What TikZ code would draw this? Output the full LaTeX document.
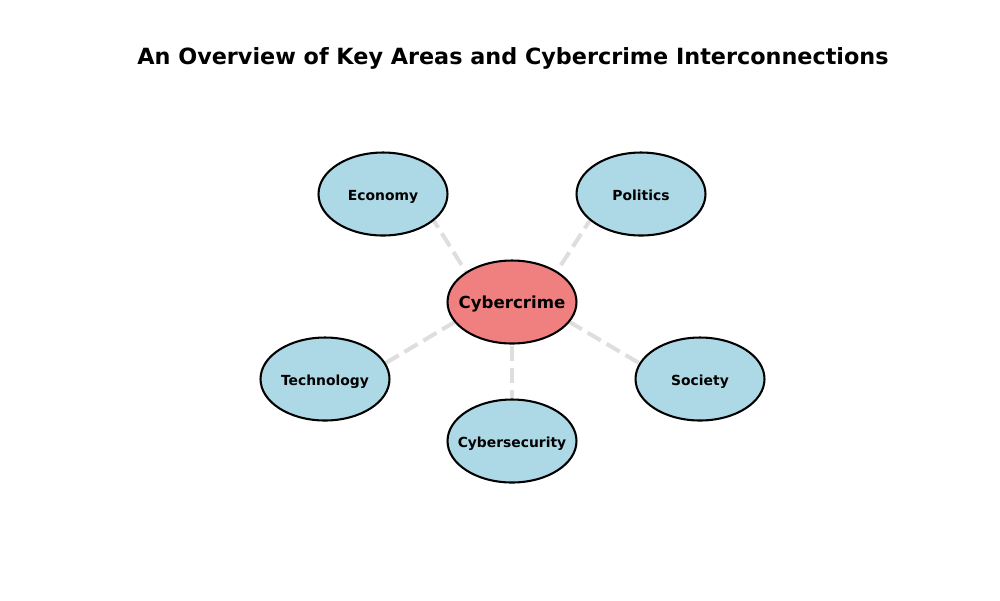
\documentclass[tikz,border=0pt]{standalone}
\usepackage{fontspec}
\setmainfont{DejaVu Sans}
\usetikzlibrary{shapes.geometric,calc,backgrounds}
\definecolor{areablue}{HTML}{ADD8E6}
\definecolor{corecoral}{HTML}{F08080}
\definecolor{linkgray}{HTML}{DEDEDE}
\newcommand{\lbl}[1]{\makebox[0pt][c]{#1}}
\begin{document}
\begin{tikzpicture}[x=0.02cm,y=-0.02cm,
  area/.style={ellipse,draw=black,line width=1.18pt,fill=areablue,minimum width=2.58cm,minimum height=1.66cm,inner sep=0pt,text height=0.74em,text depth=0pt,font=\bfseries\fontsize{7.9}{9}\selectfont},
  core/.style={area,fill=corecoral,font=\bfseries\fontsize{9.45}{11}\selectfont},
  link/.style={draw=linkgray,line width=2.3pt,dash pattern=on 8.7pt off 3.8pt}]
\useasboundingbox (0,0) rectangle (1000,600);
\node[font=\bfseries\fontsize{12.7}{15}\selectfont] (title) at (513,58) {An Overview of Key Areas and Cybercrime Interconnections};
\node[core] (cyber) at (512,302) {\lbl{Cybercrime}};
\node[area] (econ) at (383,194) {\lbl{Economy}};
\node[area] (pol) at (641,194) {\lbl{Politics}};
\node[area] (tech) at (325,379) {\lbl{Technology}};
\node[area] (soc) at (700,379) {\lbl{Society}};
\node[area] (sec) at (512,441) {\lbl{Cybersecurity}};
\begin{pgfonlayer}{background}
\draw[link] ($(cyber.center)+(-27,0)$) -- ($(econ.center)+(34,0)$);
\draw[link] ($(cyber.center)+(25,0)$) -- ($(pol.center)+(-34,0)$);
\draw[link] ($(cyber.center)+(0,-14)$) -- ($(tech.center)+(0,20)$);
\draw[link] ($(cyber.center)+(0,-14)$) -- ($(soc.center)+(0,20)$);
\draw[link] (cyber.center) -- (sec.center);
\end{pgfonlayer}
\end{tikzpicture}
\end{document}
